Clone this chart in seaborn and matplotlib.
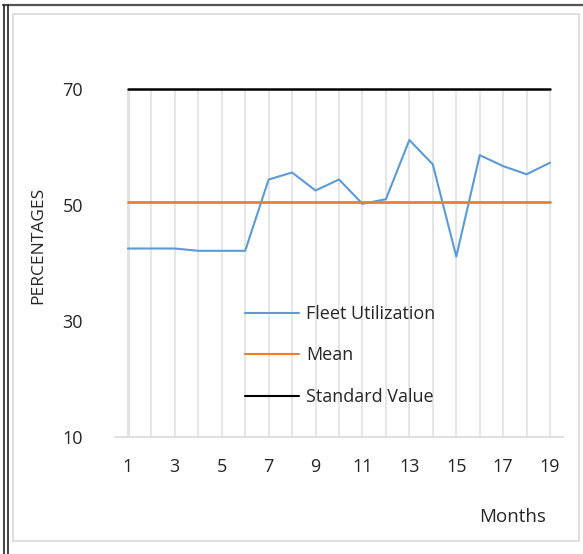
import numpy as np
import pandas as pd
import matplotlib
matplotlib.use("Agg")
import matplotlib.pyplot as plt
from matplotlib.lines import Line2D
from matplotlib.patches import Rectangle
import seaborn as sns

# Monthly fleet utilization (%)
months = list(range(1, 20))
utilization = [42.5, 42.5, 42.5, 42.1, 42.1, 42.1, 54.4, 55.6, 52.5, 54.4,
               50.2, 51.0, 61.2, 57.0, 41.1, 58.6, 56.7, 55.3, 57.3]
standard_value = 70
tick_months = [1, 3, 5, 7, 9, 11, 13, 15, 17, 19]
y_ticks = [10, 30, 50, 70]

mean_value = float(np.mean(utilization))

df = pd.DataFrame({
    "Months": months * 3,
    "Value": utilization + [mean_value] * len(months) + [standard_value] * len(months),
    "Series": (["Fleet Utilization"] * len(months) + ["Mean"] * len(months)
               + ["Standard Value"] * len(months)),
})

sns.set_theme(style="white")
plt.rcParams["font.family"] = ["Open Sans", "DejaVu Sans"]

W, H = 583, 554
fig = plt.figure(figsize=(W / 100, H / 100), dpi=100)
fig.patch.set_facecolor("white")

ax = fig.add_axes([115 / W, 1 - 437 / H, 448 / W, 348 / H])

palette = {"Fleet Utilization": "#5B9BD5", "Mean": "#ED7D31", "Standard Value": "#000000"}
sns.lineplot(data=df, x="Months", y="Value", hue="Series", palette=palette,
             ax=ax, legend=False, estimator=None)
widths = {"Fleet Utilization": 1.5, "Mean": 2.0, "Standard Value": 1.8}
for line, name in zip(ax.lines, ["Fleet Utilization", "Mean", "Standard Value"]):
    line.set_linewidth(widths[name])
    line.set_clip_on(False)
    line.set_zorder(3)

ax.set_xlim(0.45, 19.55)
ax.set_ylim(10, 70)

# vertical gridlines at every month
for m in months:
    ax.axvline(m, color="#e2e2e2", lw=1.2 if m != 1 else 2.2, zorder=1)

for side in ["top", "right", "left"]:
    ax.spines[side].set_visible(False)
ax.spines["bottom"].set_color("#d9d9d9")
ax.spines["bottom"].set_linewidth(1.2)

ax.set_xticks(tick_months)
ax.set_xticklabels([str(t) for t in tick_months])
ax.set_yticks(y_ticks)
ax.set_yticklabels([str(t) for t in y_ticks])
ax.tick_params(axis="both", length=0, labelsize=13, colors="#262626")
ax.tick_params(axis="x", pad=15)
ax.tick_params(axis="y", pad=23)
ax.set_xlabel("")
ax.set_ylabel("")

fig.text(38 / W, 1 - 245 / H, "PERCENTAGES", rotation=90, ha="center", va="center",
         fontsize=12.5, color="#262626")
fig.text(513 / W, 1 - 517 / H, "Months", ha="center", va="center",
         fontsize=13.5, color="#262626")

handles = [Line2D([], [], color=palette[n], lw=1.5) for n in palette]
ax.legend(handles, list(palette), loc="upper left", frameon=False,
          bbox_to_anchor=(245 / W, 1 - 305 / H), bbox_transform=fig.transFigure,
          fontsize=13, handlelength=3.0, handletextpad=0.4, labelspacing=1.3,
          borderpad=0, borderaxespad=0, labelcolor="#262626")

# panel frame
fig.add_artist(Rectangle((12.5 / W, 1 - 541 / H), 566 / W, 527 / H,
                         transform=fig.transFigure, fill=False,
                         edgecolor="#d9d9d9", lw=1.2))
fig.add_artist(Line2D([3 / W, 1], [1 - 5 / H, 1 - 5 / H], transform=fig.transFigure,
                      color="#555555", lw=1.6))
for x in (3.5, 7.5):
    fig.add_artist(Line2D([x / W, x / W], [0, 1 - 5 / H], transform=fig.transFigure,
                          color="#222222", lw=1.2))

fig.savefig("out.png", dpi=100, facecolor="white")
